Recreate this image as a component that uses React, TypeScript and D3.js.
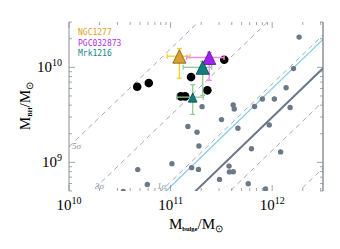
import React from "react";
import * as d3 from "d3";

// Gray comparison sample [M_bulge, M_BH]
const grayBulge = [1.84e12, 1.62e12, 1.37e12, 1.5e12, 1.05e12, 8.0e11, 6.7e11, 9.35e11, 1.21e12, 6.25e11, 4.6e11, 4.13e11, 4.23e11, 3.17e11, 2.04e11, 1.48e11, 1.82e11, 1.9e11, 1.61e11, 1.88e11, 1.03e11, 3.76e11, 3.79e11, 4.14e11, 3.03e11, 5.81e11, 8.6e11, 4.75e10, 5.9e10, 3.42e10];
const grayBH = [2.08e10, 9.7e9, 6.1e9, 3.78e9, 4.64e9, 4.64e9, 3.88e9, 2.48e9, 1.29e9, 1.39e9, 2.29e9, 4.01e9, 3.64e9, 2.82e9, 3.86e9, 2.39e9, 2.08e9, 1.49e9, 8.8e8, 8.44e8, 9.7e8, 9.14e8, 7.94e8, 7.98e8, 6.62e8, 5.97e8, 5.26e8, 8.4e8, 5.86e8, 4.95e8];

// Black points
const blackBulge = [4.69e10, 6.1e10, 1.59e11, 2.3e11, 1.26e11, 1.39e11, 3.37e11];
const blackBH = [6.24e9, 6.83e9, 7.9e9, 5.73e9, 4.95e9, 4.95e9, 1.2e10];

// Highlighted galaxies
const galNames = ["NGC1277", "PGC032873", "Mrk1216", "Mrk1216"];
const galBulge = [1.22e11, 2.4e11, 2.07e11, 1.65e11];
const galBulgeLo = [9.27e10, 1.44e11, 1.33e11, 1.15e11];
const galBulgeHi = [1.55e11, 3.36e11, 2.54e11, 2.1e11];
const galBH = [1.31e10, 1.27e10, 1.0e10, 4.86e9];
const galBHLo = [7.7e9, 7.3e9, 5.07e9, 3.2e9];
const galBHHi = [1.58e10, 1.44e10, 1.16e10, 6.58e9];
const galBig = [true, true, true, false];
const galFill = ["#d9a030", "#a020f0", "#107e7e", "#107e7e"];
const galEdge = ["#7a5a18", "#5a1088", "#0a4848", "#0a4848"];
const galErr = ["#f5d020", "#f08cf0", "#98c898", "#98c898"];

const legendNames = ["NGC1277", "PGC032873", "Mrk1216"];
const legendColors = ["#e0a020", "#b030f0", "#108888"];

// Scaling relations: log MBH = a + b (log Mbulge - 11)
const grayFit = { a: 8.445, b: 1.03 };
const blueFit = { a: 8.745, b: 1.033 };
const sigma = 0.35;
const sigmaOffsets = [-5, -3, -1, 1, 3, 5];
const sigmaLabels = ["5σ", "3σ", "1σ"];
const sigmaLabelX = [1.07e10, 1.8e10, 7.35e10];
const sigmaLabelY = [1.38e9, 5.3e8, 5.3e8];

const xTicks = [1e10, 1e11, 1e12];
const xTickExp = ["10", "11", "12"];
const yTicks = [1e9, 1e10];
const yTickExp = ["9", "10"];

const L = 69, R = 323, T = 22, B = 191;

export default function App() {
  const x = d3.scaleLog().domain([1e10, Math.pow(10, 12.5)]).range([L, R]);
  const y = d3.scaleLog().domain([5e8, 3e10]).range([B, T]);
  const lx0 = 10, lx1 = 12.5;
  const fitLine = (a: number, b: number) => {
    const p = [lx0, lx1].map((lx) => [x(Math.pow(10, lx)), y(Math.pow(10, a + b * (lx - 11)))] as [number, number]);
    return d3.line()(p) as string;
  };
  const minorX: number[] = [];
  for (let e = 10; e <= 12; e++) for (let m = 1; m <= 9; m++) { const v = m * Math.pow(10, e); if (v <= Math.pow(10, 12.5)) minorX.push(v); }
  const minorY: number[] = [];
  for (let e = 8; e <= 10; e++) for (let m = 1; m <= 9; m++) { const v = m * Math.pow(10, e); if (v >= 5e8 && v <= 3e10) minorY.push(v); }
  const axisCol = "#8a8f96";
  const tri = (cx: number, cy: number, big: boolean) => {
    const up = big ? 6.5 : 4.2, dn = big ? 7 : 5, hw = big ? 6.6 : 4.3;
    return `M${cx},${cy - up}L${cx + hw},${cy + dn}L${cx - hw},${cy + dn}Z`;
  };
  return (
    <svg width={340} height={249} style={{ display: "block", position: "absolute", left: 0, top: 0 }}>
      <defs>
        <clipPath id="plotclip"><rect x={L} y={T} width={R - L} height={B - T} /></clipPath>
      </defs>
      <rect x={0} y={0} width={340} height={249} fill="#fff" />
      <g clipPath="url(#plotclip)">
        {sigmaOffsets.map((o) => (
          <path key={o} d={fitLine(grayFit.a + o * sigma, grayFit.b)} stroke="#a4abb4" strokeWidth={1} strokeDasharray="5,4" fill="none" />
        ))}
        <path d={fitLine(blueFit.a, blueFit.b)} stroke="#86cce8" strokeWidth={1.3} fill="none" />
        <path d={fitLine(grayFit.a, grayFit.b)} stroke="#6c7888" strokeWidth={2} fill="none" />
        {grayBulge.map((v, i) => (
          <circle key={i} cx={x(v)} cy={y(grayBH[i])} r={2.7} fill="#6a7888" />
        ))}
      </g>
      {sigmaLabels.map((s, i) => (
        <text key={s} x={x(sigmaLabelX[i])} y={y(sigmaLabelY[i])} fontFamily="Liberation Serif, serif" fontStyle="italic" fontSize={9} fill="#8494a6">{s}</text>
      ))}
      {blackBulge.map((v, i) => (
        <circle key={i} cx={x(v)} cy={y(blackBH[i])} r={4.3} fill="#000" />
      ))}
      {galBulge.map((v, i) => {
        const cx = x(v), cy = y(galBH[i]);
        const x0 = x(galBulgeLo[i]), x1 = x(galBulgeHi[i]);
        const y0 = y(galBHLo[i]), y1 = y(galBHHi[i]);
        const c = galErr[i];
        return (
          <g key={"e" + i} stroke={c} strokeWidth={1.3}>
            <line x1={x0} x2={x1} y1={cy} y2={cy} />
            <line x1={cx} x2={cx} y1={y0} y2={y1} />
            <line x1={x0} x2={x0} y1={cy - 2.5} y2={cy + 2.5} />
            <line x1={x1} x2={x1} y1={cy - 2.5} y2={cy + 2.5} />
            <line x1={cx - 2.5} x2={cx + 2.5} y1={y0} y2={y0} />
            <line x1={cx - 2.5} x2={cx + 2.5} y1={y1} y2={y1} />
          </g>
        );
      })}
      {galBulge.map((v, i) => (
        <path key={"t" + i} d={tri(x(v), y(galBH[i]), galBig[i])} fill={galFill[i]} stroke={galEdge[i]} strokeWidth={0.8} />
      ))}
      {/* axes frame */}
      <line x1={L} x2={L} y1={T} y2={B} stroke={axisCol} strokeWidth={1} />
      <line x1={R} x2={R} y1={T} y2={B} stroke="#707780" strokeWidth={1.2} />
      {minorX.map((v, i) => {
        const major = xTicks.includes(v);
        const len = major ? 6 : 3;
        return (
          <g key={"xt" + i} stroke={axisCol} strokeWidth={0.8}>
            <line x1={x(v)} x2={x(v)} y1={B} y2={B - len} />
            <line x1={x(v)} x2={x(v)} y1={T} y2={T + len} />
          </g>
        );
      })}
      {minorY.map((v, i) => {
        const major = yTicks.includes(v);
        const len = major ? 6 : 3;
        return (
          <g key={"yt" + i} stroke={axisCol} strokeWidth={0.8}>
            <line x1={L} x2={L + len} y1={y(v)} y2={y(v)} />
            <line x1={R} x2={R - len} y1={y(v)} y2={y(v)} />
          </g>
        );
      })}
      {xTicks.map((v, i) => (
        <text key={"xl" + i} x={x(v)} y={210} textAnchor="middle" fontFamily="Liberation Serif, serif" fontSize={15} fill="#000">
          10<tspan fontSize={10} dy={-6}>{xTickExp[i]}</tspan>
        </text>
      ))}
      {yTicks.map((v, i) => (
        <text key={"yl" + i} x={62} y={y(v) + 5} textAnchor="end" fontFamily="Liberation Serif, serif" fontSize={15} fill="#000">
          10<tspan fontSize={10} dy={-6}>{yTickExp[i]}</tspan>
        </text>
      ))}
      <text x={196} y={229} textAnchor="middle" fontFamily="Liberation Serif, serif" fontSize={15} fill="#000">
        M<tspan fontSize={6.5} fontWeight="bold" dy={2}>bulge</tspan><tspan dy={-2}>/M</tspan><tspan fontSize={10} dy={3}>⊙</tspan>
      </text>
      <text transform="translate(30,106) rotate(-90)" textAnchor="middle" fontFamily="Liberation Serif, serif" fontSize={15} fill="#000">
        M<tspan fontSize={6.5} fontWeight="bold" dy={2}>BH</tspan><tspan dy={-2}>/M</tspan><tspan fontSize={10} dy={3}>⊙</tspan>
      </text>
      {legendNames.map((n, i) => (
        <text key={n} x={78} y={35 + i * 10.5} fontFamily="DejaVu Sans Mono, monospace" fontSize={8} fill={legendColors[i]}>{n}</text>
      ))}
    </svg>
  );
}
